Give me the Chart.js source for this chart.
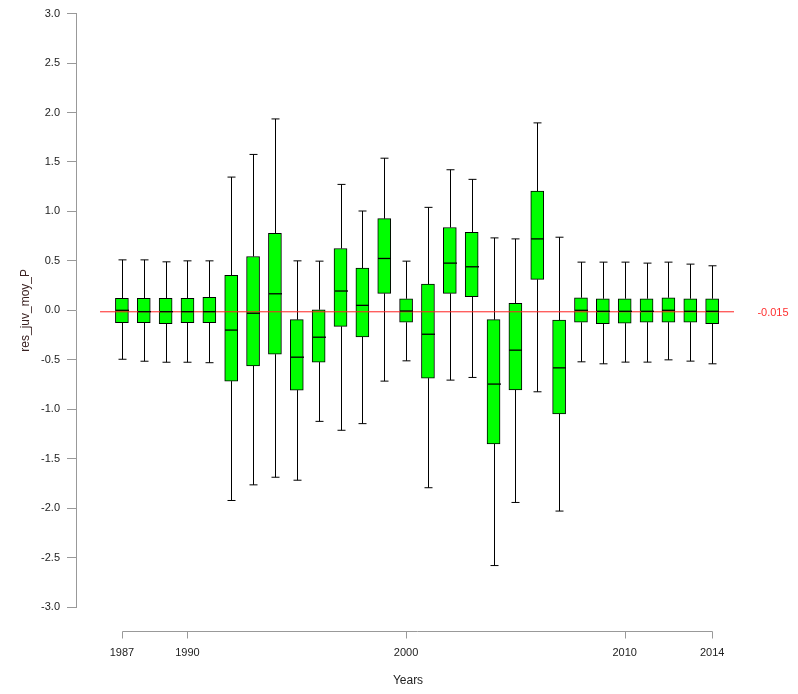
<!DOCTYPE html>
<html>
<head>
<meta charset="utf-8">
<script src="https://cdn.jsdelivr.net/npm/chart.js@4"></script>
<style>
  html, body { margin: 0; padding: 0; background: #fff; }
  #wrap { width: 798px; height: 694px; }
</style>
</head>
<body>
<div id="wrap"><canvas id="boxChart" width="798" height="694"></canvas></div>
<script>
const years = [1987, 1988, 1989, 1990, 1991, 1992, 1993, 1994, 1995, 1996, 1997, 1998, 1999, 2000,
  2001, 2002, 2003, 2004, 2005, 2006, 2007, 2008, 2009, 2010, 2011, 2012, 2013, 2014];
const lowWhisker = [-0.495, -0.515, -0.525, -0.525, -0.53, -1.923, -1.765, -1.688, -1.718, -1.123, -1.213, -1.146, -0.716, -0.511,
  -1.794, -0.706, -0.679, -2.581, -1.943, -0.824, -2.03, -0.521, -0.541, -0.524, -0.524, -0.501, -0.514, -0.541];
const q1 = [-0.125, -0.125, -0.135, -0.125, -0.125, -0.716, -0.562, -0.444, -0.807, -0.524, -0.163, -0.269, 0.171, -0.121,
  -0.686, 0.171, 0.137, -1.351, -0.806, 0.312, -1.048, -0.121, -0.135, -0.13, -0.12, -0.12, -0.12, -0.135];
const medians = [0.0, -0.014, -0.014, -0.014, -0.014, -0.20, -0.03, 0.167, -0.474, -0.272, 0.195, 0.05, 0.524, -0.007,
  -0.242, 0.477, 0.44, -0.746, -0.403, 0.722, -0.582, 0.0, -0.01, -0.01, -0.01, 0.0, -0.01, -0.01];
const q3 = [0.12, 0.12, 0.12, 0.12, 0.13, 0.353, 0.544, 0.779, -0.095, 0.006, 0.625, 0.426, 0.927, 0.117,
  0.265, 0.837, 0.789, -0.095, 0.07, 1.206, -0.098, 0.127, 0.117, 0.117, 0.117, 0.127, 0.117, 0.117];
const highWhisker = [0.51, 0.51, 0.49, 0.50, 0.50, 1.347, 1.576, 1.935, 0.50, 0.497, 1.273, 1.004, 1.538, 0.497,
  1.041, 1.421, 1.324, 0.732, 0.722, 1.895, 0.739, 0.487, 0.487, 0.487, 0.477, 0.487, 0.467, 0.45];
const xTickYears = [1987, 1990, 2000, 2010, 2014];
const meanValue = -0.015;
const meanLineRange = [1986, 2015];

// whiskers behind the boxes, medians + x axis on top
const boxExtras = {
  id: 'boxExtras',
  beforeDatasetsDraw(chart) {
    const { ctx, scales: { x, y } } = chart;
    ctx.save();
    ctx.strokeStyle = '#000';
    ctx.lineWidth = 1;
    years.forEach((yr, i) => {
      const px = Math.round(x.getPixelForValue(yr)) + 0.5;
      const yHi = y.getPixelForValue(highWhisker[i]);
      const yLo = y.getPixelForValue(lowWhisker[i]);
      ctx.beginPath();
      ctx.moveTo(px, yHi);
      ctx.lineTo(px, y.getPixelForValue(q3[i]));
      ctx.moveTo(px, y.getPixelForValue(q1[i]));
      ctx.lineTo(px, yLo);
      ctx.moveTo(px - 4, yHi);
      ctx.lineTo(px + 4, yHi);
      ctx.moveTo(px - 4, yLo);
      ctx.lineTo(px + 4, yLo);
      ctx.stroke();
    });
    ctx.restore();
  },
  afterDatasetsDraw(chart) {
    const { ctx, chartArea, scales: { x, y } } = chart;
    ctx.save();
    ctx.strokeStyle = '#000';
    ctx.lineWidth = 1.3;
    years.forEach((yr, i) => {
      const px = Math.round(x.getPixelForValue(yr)) + 0.5;
      const ym = y.getPixelForValue(medians[i]);
      ctx.beginPath();
      ctx.moveTo(px - 6.5, ym);
      ctx.lineTo(px + 6.5, ym);
      ctx.stroke();
    });

    // x axis drawn only between first and last labelled year
    const axisY = 631.5;
    ctx.strokeStyle = '#999';
    ctx.lineWidth = 1;
    ctx.beginPath();
    ctx.moveTo(Math.round(x.getPixelForValue(xTickYears[0])) + 0.5, axisY);
    ctx.lineTo(Math.round(x.getPixelForValue(xTickYears[xTickYears.length - 1])) + 0.5, axisY);
    xTickYears.forEach(yr => {
      const px = Math.round(x.getPixelForValue(yr)) + 0.5;
      ctx.moveTo(px, axisY);
      ctx.lineTo(px, axisY + 7);
    });
    ctx.stroke();

    ctx.fillStyle = '#222';
    ctx.font = '11px "Liberation Sans", Arial, sans-serif';
    ctx.textAlign = 'center';
    ctx.textBaseline = 'middle';
    xTickYears.forEach(yr => {
      ctx.fillText(String(yr), x.getPixelForValue(yr), 653);
    });
    ctx.font = '12px "Liberation Sans", Arial, sans-serif';
    ctx.fillText('Years', (chartArea.left + chartArea.right) / 2 + 3, 681);

    // mean label right of the plot
    ctx.fillStyle = '#ff3030';
    ctx.font = '11px "Liberation Sans", Arial, sans-serif';
    ctx.fillText(String(meanValue), chartArea.right + 39, y.getPixelForValue(meanValue) + 1);
    ctx.restore();
  }
};

new Chart(document.getElementById('boxChart'), {
  type: 'bar',
  data: {
    datasets: [
      {
        type: 'line',
        label: 'mean',
        data: meanLineRange.map(v => ({ x: v, y: meanValue })),
        borderColor: '#ff2020',
        borderWidth: 1,
        pointRadius: 0,
        order: 0
      },
      {
        label: 'res_juv_moy_P',
        data: years.map((yr, i) => ({ x: yr, y: [q1[i], q3[i]] })),
        backgroundColor: '#00ff00',
        borderColor: '#000',
        borderWidth: 1,
        borderSkipped: false,
        barThickness: 13,
        order: 1
      }
    ]
  },
  options: {
    responsive: false,
    animation: false,
    layout: { padding: { left: 0, top: 12, right: 64, bottom: 87 } },
    plugins: {
      legend: { display: false },
      tooltip: { enabled: false }
    },
    scales: {
      x: {
        type: 'linear',
        min: 1984.9,
        max: 2015,
        offset: false,
        display: false
      },
      y: {
        min: -3,
        max: 3,
        afterFit: (scale) => { scale.width = 76; },
        border: { display: true, color: '#999', width: 1 },
        grid: { drawOnChartArea: false, drawTicks: true, tickLength: 9, color: '#999' },
        ticks: {
          stepSize: 0.5,
          padding: 7,
          color: '#222',
          font: { family: '"Liberation Sans", Arial, sans-serif', size: 11 },
          callback: (v) => v.toFixed(1)
        },
        title: {
          display: true,
          text: 'res_juv_moy_P',
          color: '#3a2222',
          padding: { top: 18, bottom: 0 },
          font: { family: '"Liberation Sans", Arial, sans-serif', size: 12 }
        }
      }
    }
  },
  plugins: [boxExtras]
});
</script>
</body>
</html>
